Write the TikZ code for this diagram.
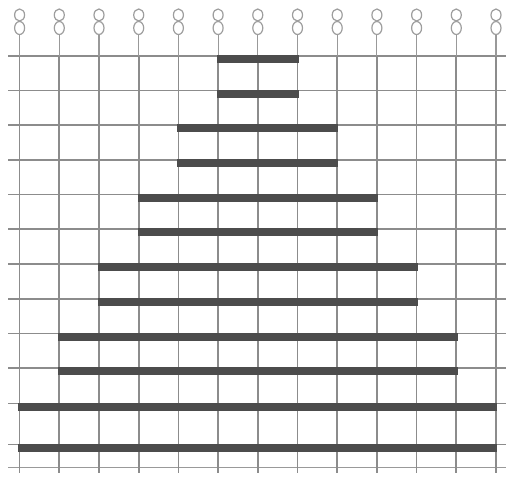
\documentclass[tikz,border=0pt]{standalone}
\begin{document}
\begin{tikzpicture}[x=1pt,y=-1pt,
  gridline/.style={draw=black!45,line width=1.7pt},
  baseline/.style={draw=black!40,line width=1.4pt},
  barfill/.style={fill=black!70},
  symline/.style={draw=black!38,line width=1.2pt},
  stemline/.style={draw=black!40,line width=1.1pt}]
\useasboundingbox (0,0) rectangle (514,481);
\fill[white] (0,0) rectangle (514,481);
% horizontal grid lines
\foreach \y in {55.7,90.5,125.2,159.9,194.6,229.3,264,298.7,333.4,368.1,403.5,444.5}
  \draw[gridline] (8,\y) -- (506,\y);
\draw[baseline] (8,467.5) -- (506,467.5);
% vertical lines, stems and spools
\foreach \i in {0,...,12}{
  \pgfmathsetmacro\xx{19.6+39.7*\i}
  \draw[gridline] (\xx,55.7) -- (\xx,472.5);
  \draw[stemline] (\xx,34.5) -- (\xx,55.7);
  \draw[symline] (\xx,15) ellipse [x radius=5,y radius=6];
  \draw[symline] (\xx,28) ellipse [x radius=5,y radius=6.5];
}
% pyramid bars
\foreach \y [count=\k] in {55.7,90.5,125.2,159.9,194.6,229.3,264,298.7,333.4,368.1,403.5,444.5}{
  \pgfmathtruncatemacro\lv{5-int((\k-1)/2)}
  \fill[barfill] ({19.6+39.7*\lv-1.2},{\y-0.8}) rectangle ({19.6+39.7*(12-\lv)+1.2},{\y+7.2});
}
\end{tikzpicture}
\end{document}
